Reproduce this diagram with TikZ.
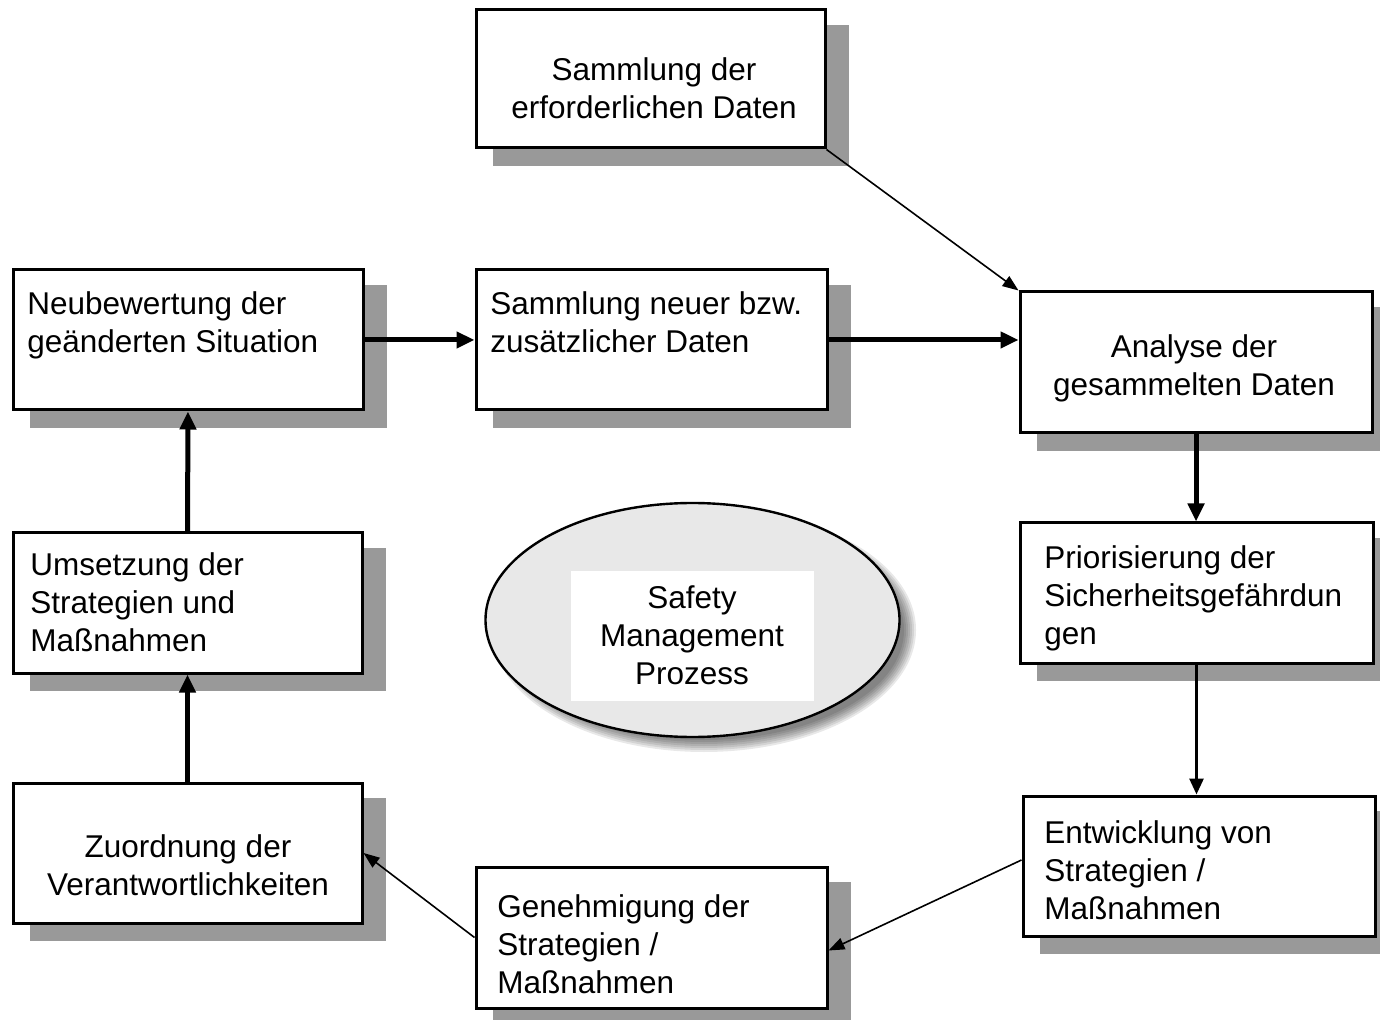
\documentclass[tikz,border=0pt]{standalone}
\usepackage{fontspec}
\setmainfont{Liberation Sans}
\usetikzlibrary{arrows.meta,fit,shapes.geometric}

% multi-line text whose anchor is the baseline of the first line
\newcommand\txtlines[2]{\begin{tabular}[t]{@{}#1@{}}#2\end{tabular}}

% process box with its drop shadow: name, x1, y1, x2, y2
\newcommand\shadedbox[5]{%
  \fill[boxshade] (#2+17,#3+15) rectangle (#4+24,#5+18);
  \node[procbox, fit={(#2,#3) (#4,#5)}] (#1) {};
}

\begin{document}
\begin{tikzpicture}[x=0.5pt,y=-0.5pt,
  procbox/.style={draw=black, line width=1.5pt, fill=white, inner sep=0pt},
  boxshade/.style={fill=black!40},
  boxtext/.style={inner sep=0pt, font=\fontsize{15.75}{19}\selectfont},
  heavy/.style={line width=2.5pt, -{Triangle[length=9pt,width=8pt]}},
  medium/.style={line width=1.4pt, -{Triangle[length=8pt,width=7pt]}},
  light/.style={line width=0.8pt, -{Triangle[length=8pt,width=6pt]}},
]
\useasboundingbox (0,0) rectangle (1380,1020);
\clip (0,0) rectangle (1380,1020);

% boxes
\shadedbox{b1}{476}{10}{825}{148}
\shadedbox{b2}{13}{270}{363}{410}
\shadedbox{b3}{476}{270}{827}{410}
\shadedbox{b4}{1020}{292}{1372}{433}
\shadedbox{b5}{1020}{523}{1373}{663}
\shadedbox{b6}{1023}{796}{1375}{936}
\shadedbox{b7}{476}{867}{827}{1008}
\shadedbox{b8}{13}{783}{362}{923}
\shadedbox{b9}{13}{533}{362}{673}

% box texts
\node[boxtext, anchor=base] (t1) at (654,81)
  {\txtlines{c}{Sammlung der\\erforderlichen Daten}};
\node[boxtext, anchor=base west] (t2) at (27,315)
  {\txtlines{l}{Neubewertung der\\geänderten Situation}};
\node[boxtext, anchor=base west] (t3) at (490,315)
  {\txtlines{l}{Sammlung neuer bzw.\\zusätzlicher Daten}};
\node[boxtext, anchor=base] (t4) at (1194,358)
  {\txtlines{c}{Analyse der\\gesammelten Daten}};
\node[boxtext, anchor=base west] (t5) at (1044,569)
  {\txtlines{l}{Priorisierung der\\Sicherheitsgefährdun\\gen}};
\node[boxtext, anchor=base west] (t6) at (1044,843)
  {\txtlines{l}{Entwicklung von\\Strategien /\\Maßnahmen}};
\node[boxtext, anchor=base west] (t7) at (497,917)
  {\txtlines{l}{Genehmigung der\\Strategien /\\Maßnahmen}};
\node[boxtext, anchor=base] (t8) at (188,857)
  {\txtlines{c}{Zuordnung der\\Verantwortlichkeiten}};
\node[boxtext, anchor=base west] (t9) at (30,576)
  {\txtlines{l}{Umsetzung der\\Strategien und\\Maßnahmen}};

% central ellipse with soft shadow
\foreach \k in {0,...,6}
  \fill[black, opacity=0.09] (704,630) ellipse [x radius=200+2*\k, y radius=110+2*\k];
\node[draw=black, line width=1.2pt, fill=black!9, ellipse, inner sep=0pt,
      minimum width=207pt, minimum height=117pt] (core) at (692.5,620) {};
\node[fill=white, inner sep=0pt, minimum width=121.5pt, minimum height=64.5pt]
  (corepanel) at (692,636) {};
\node[boxtext, anchor=base] (t0) at (692,609)
  {\txtlines{c}{Safety\\Management\\Prozess}};

% connectors
\draw[light] (b1.south east) -- (b4.north west);
\draw[heavy] (b2.east) -- (b3.west);
\draw[heavy] (b3.east) -- (b3.east -| b4.west);
\draw[heavy] (b4.south) -- (b4.south |- b5.north);
\draw[medium] (b5.south) -- (b5.south |- b6.north);
\draw[light] ([yshift=3pt]b6.west) -- ([yshift=-6.5pt]b7.east);
\draw[light] (b7.west) -- (b8.east);
\draw[heavy] (b8.north) -- (b9.south);
\draw[heavy] (b9.north) -- (b2.south);
\end{tikzpicture}
\end{document}
